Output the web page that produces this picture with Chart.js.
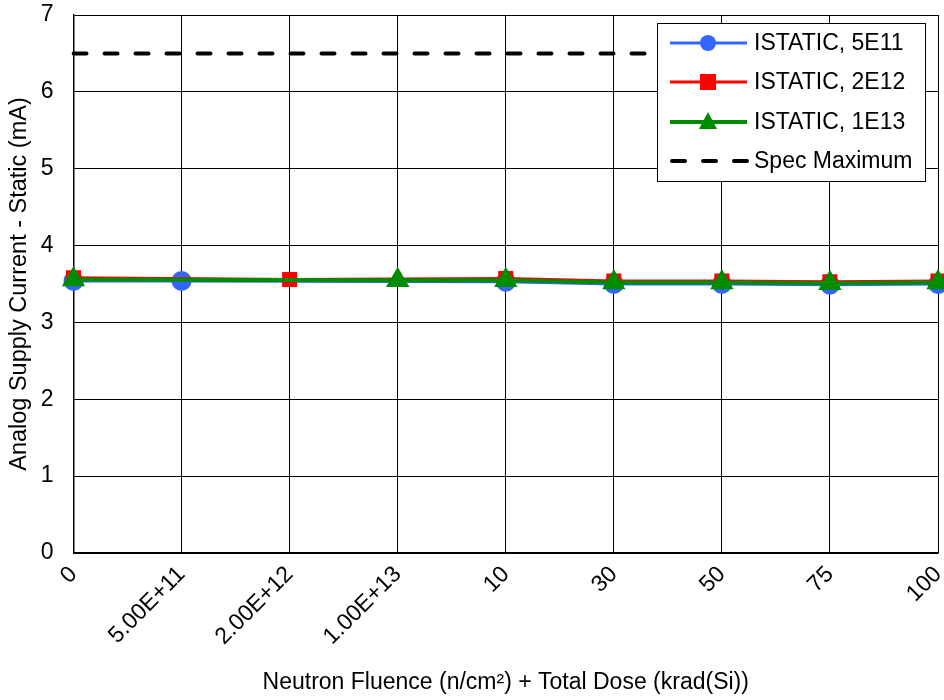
<!DOCTYPE html>
<html>
<head>
<meta charset="utf-8">
<script src="https://cdn.jsdelivr.net/npm/chart.js@4"></script>
<style>
  html, body { margin: 0; padding: 0; background: #fff; }
  #wrap { width: 944px; height: 700px; }
</style>
</head>
<body>
<div id="wrap"><canvas id="c" width="944" height="700"></canvas></div>
<script>
// Fluence / dose steps on the x axis
const categories = ['0', '5.00E+11', '2.00E+12', '1.00E+13', '10', '30', '50', '75', '100'];

// Static analog supply current (mA) per irradiation group
const istatic5E11 = [3.54, 3.54, null, null, 3.53, 3.50, 3.50, 3.49, 3.50];
const istatic2E12 = [3.58, null, 3.56, null, 3.57, 3.54, 3.54, 3.53, 3.54];
const istatic1E13 = [3.56, null, null, 3.55, 3.55, 3.52, 3.52, 3.51, 3.52];
const specMaximum = [6.5, 6.5, 6.5, 6.5, 6.5, 6.5, 6.5, 6.5, 6.5];

// Y axis tick values
const yTicks = [0, 1, 2, 3, 4, 5, 6, 7];

const FONT = "'Liberation Sans', Arial, sans-serif";
const FS = 23;

// Boxed legend drawn inside the top-right of the plot
const boxedLegend = {
  id: 'boxedLegend',
  afterDraw(chart) {
    const ctx = chart.ctx;
    const area = chart.chartArea;
    const right = area.right - 13;
    const left = 657;
    const top = 23;
    const bottom = 181;
    ctx.save();
    ctx.fillStyle = '#fff';
    ctx.fillRect(left, top, right - left, bottom - top);
    ctx.strokeStyle = '#000';
    ctx.lineWidth = 1;
    ctx.strokeRect(left + 0.5, top + 0.5, right - left, bottom - top);
    const rows = [43, 82, 122, 161];
    const x0 = 670, x1 = 747, xm = 708;
    chart.data.datasets.forEach((ds, i) => {
      const y = rows[i];
      ctx.strokeStyle = ds.borderColor;
      ctx.lineWidth = ds.borderWidth;
      ctx.lineCap = ds.borderDash ? 'round' : 'butt';
      ctx.setLineDash(ds.borderDash ? [13, 18] : []);
      ctx.beginPath();
      ctx.moveTo(ds.borderDash ? x0 + 2 : x0, y);
      ctx.lineTo(x1, y);
      ctx.stroke();
      ctx.setLineDash([]);
      ctx.fillStyle = ds.pointBackgroundColor || ds.borderColor;
      const r = 8;
      if (ds.pointStyle === 'circle') {
        ctx.beginPath();
        ctx.arc(xm, y, r, 0, Math.PI * 2);
        ctx.fill();
      } else if (ds.pointStyle === 'rect') {
        ctx.fillRect(xm - 8, y - 8, 16, 16);
      } else if (ds.pointStyle === 'triangle') {
        ctx.beginPath();
        ctx.moveTo(xm, y - 10);
        ctx.lineTo(xm + 9, y + 7);
        ctx.lineTo(xm - 9, y + 7);
        ctx.closePath();
        ctx.fill();
      }
      ctx.fillStyle = '#000';
      ctx.font = FS + 'px ' + FONT;
      ctx.textAlign = 'left';
      ctx.textBaseline = 'middle';
      ctx.fillText(ds.label, 754, y + 1);
    });
    ctx.restore();
  }
};

new Chart(document.getElementById('c'), {
  type: 'line',
  data: {
    labels: categories,
    datasets: [
      {
        label: 'ISTATIC, 5E11',
        data: istatic5E11,
        borderColor: '#3366FF',
        pointBackgroundColor: '#3366FF',
        pointBorderColor: '#3366FF',
        borderWidth: 3,
        pointStyle: 'circle',
        pointRadius: 8.5,
        spanGaps: true,
        order: 3
      },
      {
        label: 'ISTATIC, 2E12',
        data: istatic2E12,
        borderColor: '#FF0000',
        pointBackgroundColor: '#FF0000',
        pointBorderColor: '#FF0000',
        borderWidth: 3,
        pointStyle: 'rect',
        pointRadius: 8.5,
        spanGaps: true,
        order: 2
      },
      {
        label: 'ISTATIC, 1E13',
        data: istatic1E13,
        borderColor: '#008C00',
        pointBackgroundColor: '#008C00',
        pointBorderColor: '#008C00',
        borderWidth: 4,
        pointStyle: 'triangle',
        pointRadius: 9.5,
        spanGaps: true,
        order: 1
      },
      {
        label: 'Spec Maximum',
        data: specMaximum,
        borderColor: '#000',
        borderWidth: 4,
        borderDash: [13, 18],
        borderCapStyle: 'round',
        pointRadius: 0,
        order: 4
      }
    ]
  },
  options: {
    responsive: false,
    animation: false,
    devicePixelRatio: 1,
    layout: { autoPadding: false, padding: { top: 15, right: 6, left: 0, bottom: 0 } },
    plugins: {
      legend: { display: false },
      tooltip: { enabled: false }
    },
    scales: {
      x: {
        type: 'category',
        offset: false,
        grid: { color: '#000', lineWidth: 1, drawTicks: false },
        border: { color: '#000', width: 1.5 },
        ticks: {
          font: { family: FONT, size: FS },
          color: '#000',
          maxRotation: 45,
          minRotation: 45,
          padding: 8,
          autoSkip: false
        },
        title: {
          display: true,
          text: 'Neutron Fluence (n/cm²) + Total Dose (krad(Si))',
          font: { family: FONT, size: FS },
          color: '#000',
          padding: { top: 4, bottom: 4 }
        },
        afterFit(scale) {
          scale.height = 147;
          scale.paddingLeft = 0;
          scale.paddingRight = 0;
        }
      },
      y: {
        min: 0,
        max: 7,
        afterBuildTicks(scale) {
          scale.ticks = yTicks.map(v => ({ value: v }));
        },
        grid: { color: '#000', lineWidth: 1, drawTicks: false },
        border: { color: '#000', width: 1.5 },
        ticks: {
          font: { family: FONT, size: FS },
          color: '#000',
          padding: 20
        },
        title: {
          display: true,
          text: 'Analog Supply Current - Static (mA)',
          font: { family: FONT, size: 23.5 },
          color: '#000',
          padding: { top: 5, bottom: 0 }
        },
        afterFit(scale) {
          scale.width = 73.5;
          scale.paddingTop = 0;
          scale.paddingBottom = 0;
        }
      }
    }
  },
  plugins: [boxedLegend]
});
</script>
</body>
</html>
